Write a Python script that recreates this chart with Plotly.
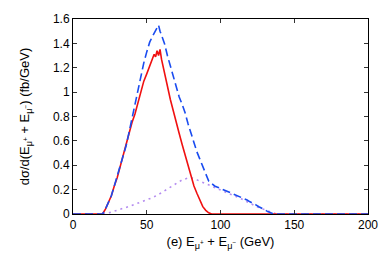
import plotly.graph_objects as go

# Red solid curve
red_x = [0, 10, 18, 20, 22, 24, 26, 28, 30, 32, 34, 36, 38, 40, 42, 44, 46, 48, 50, 52, 54, 55, 56, 57, 58, 59, 60, 62, 64, 66, 68, 70, 72, 74, 76, 78, 80, 82, 84, 86, 88, 90, 92, 94, 150, 200]
red_y = [0, 0, 0, 0.0, 0.04, 0.09, 0.15, 0.23, 0.30, 0.39, 0.48, 0.58, 0.67, 0.75, 0.82, 0.91, 1.00, 1.09, 1.15, 1.22, 1.28, 1.31, 1.29, 1.34, 1.30, 1.35, 1.27, 1.17, 1.05, 0.94, 0.84, 0.75, 0.66, 0.57, 0.48, 0.39, 0.30, 0.23, 0.17, 0.11, 0.06, 0.03, 0.01, 0.0, 0, 0]

# Blue dashed curve
blue_x = [0, 10, 18, 20, 22, 24, 26, 28, 30, 32, 34, 36, 38, 40, 42, 44, 46, 48, 50, 52, 54, 56, 57, 58, 59, 60, 62, 64, 66, 68, 70, 72, 74, 76, 78, 80, 82, 84, 86, 88, 90, 92, 94, 96, 98, 100, 102, 104, 106, 108, 110, 112, 114, 116, 118, 120, 122, 124, 126, 128, 130, 132, 134, 136, 150, 200]
blue_y = [0, 0, 0, 0.0, 0.04, 0.09, 0.15, 0.23, 0.31, 0.40, 0.48, 0.56, 0.67, 0.79, 0.89, 1.01, 1.12, 1.24, 1.33, 1.41, 1.46, 1.51, 1.53, 1.55, 1.50, 1.47, 1.40, 1.30, 1.21, 1.12, 1.03, 0.96, 0.90, 0.83, 0.74, 0.66, 0.59, 0.51, 0.45, 0.39, 0.33, 0.27, 0.25, 0.23, 0.22, 0.21, 0.20, 0.19, 0.18, 0.17, 0.16, 0.15, 0.135, 0.125, 0.115, 0.10, 0.09, 0.075, 0.06, 0.05, 0.035, 0.02, 0.01, 0.0, 0, 0]

# Purple dotted curve
purple_x = [0, 10, 20, 22, 24, 26, 28, 30, 34, 38, 42, 46, 50, 54, 58, 62, 66, 70, 74, 78, 80, 82, 86, 90, 94, 98, 102, 106, 110, 114, 118, 122, 126, 130, 134, 136, 138, 150, 200]
purple_y = [0, 0, 0, 0.003, 0.008, 0.015, 0.022, 0.03, 0.045, 0.062, 0.08, 0.097, 0.115, 0.135, 0.16, 0.19, 0.225, 0.255, 0.28, 0.295, 0.297, 0.29, 0.27, 0.25, 0.23, 0.21, 0.19, 0.17, 0.15, 0.125, 0.10, 0.075, 0.052, 0.035, 0.015, 0.005, 0, 0, 0]

x_ticks = [0, 50, 100, 150, 200]
y_ticks = [0, 0.2, 0.4, 0.6, 0.8, 1.0, 1.2, 1.4, 1.6]
y_tick_labels = ["0", "0.2", "0.4", "0.6", "0.8", "1", "1.2", "1.4", "1.6"]

fig = go.Figure()
fig.add_trace(go.Scatter(x=purple_x, y=purple_y, mode="lines",
                         line=dict(color="#b48cf0", width=1.6, dash="2px,4px")))
fig.add_trace(go.Scatter(x=red_x, y=red_y, mode="lines",
                         line=dict(color="#f01010", width=1.6)))
fig.add_trace(go.Scatter(x=blue_x, y=blue_y, mode="lines",
                         line=dict(color="#1a4cf0", width=1.6, dash="8px,4px")))

tick_font = dict(family="Liberation Sans, Arial, sans-serif", size=12, color="black")
title_font = dict(family="Liberation Sans, Arial, sans-serif", size=13, color="black")
fig.update_layout(
    width=390, height=267,
    margin=dict(l=73, r=18, t=12, b=53),
    paper_bgcolor="white", plot_bgcolor="white",
    showlegend=False,
    font=tick_font,
)
fig.update_xaxes(range=[0, 200], tickvals=x_ticks, ticks="inside", ticklen=4,
                 tickcolor="#333", mirror="ticks", showline=True, linecolor="black",
                 linewidth=1, showgrid=False, zeroline=False, tickfont=tick_font,
                 title=dict(text="(e) E<sub>μ<sup>+</sup></sub> + E<sub>μ<sup>−</sup></sub> (GeV)",
                            font=title_font, standoff=5))
fig.update_yaxes(range=[0, 1.6], tickvals=y_ticks, ticktext=y_tick_labels, ticks="inside",
                 ticklen=4, tickcolor="#333", mirror="ticks", showline=True,
                 linecolor="black", linewidth=1, showgrid=False, zeroline=False,
                 tickfont=tick_font,
                 title=dict(text="dσ/d(E<sub>μ<sup>+</sup></sub> + E<sub>μ<sup>−</sup></sub>) (fb/GeV)",
                            font=title_font, standoff=20))

fig.write_html("out.html", config={"displayModeBar": False},
               post_script="document.body.style.margin='0';document.body.style.overflow='hidden';")
